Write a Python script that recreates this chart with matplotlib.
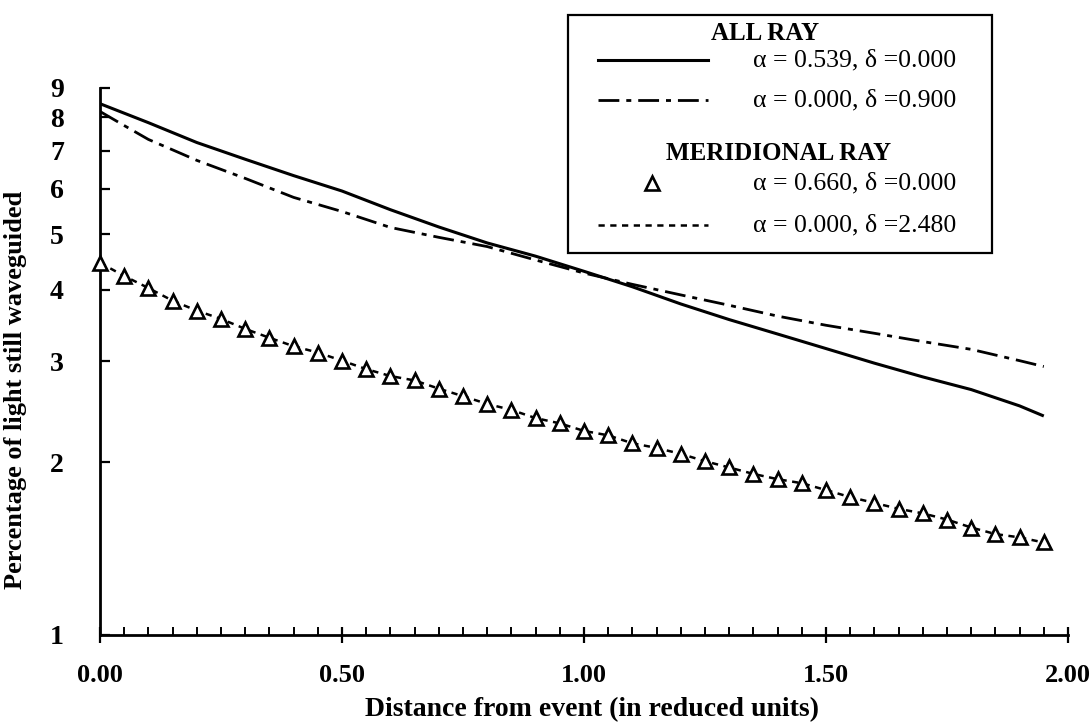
import matplotlib
matplotlib.use('Agg')
import matplotlib.pyplot as plt
from matplotlib.lines import Line2D
from matplotlib.patches import Rectangle
from matplotlib.ticker import FixedLocator, NullLocator

plt.rcParams['font.family'] = ['Liberation Serif', 'DejaVu Serif']

# ALL RAY, alpha = 0.539, delta = 0.000 (solid)
x_all = [0.0, 0.1, 0.2, 0.3, 0.4, 0.5, 0.6, 0.7, 0.8, 0.9, 1.0,
         1.1, 1.2, 1.3, 1.4, 1.5, 1.6, 1.7, 1.8, 1.9, 1.95]
all_a539 = [8.45, 7.83, 7.23, 6.76, 6.33, 5.95, 5.52, 5.15, 4.83, 4.58, 4.31,
            4.05, 3.78, 3.55, 3.35, 3.16, 2.98, 2.82, 2.68, 2.51, 2.41]

# ALL RAY, alpha = 0.000, delta = 0.900 (dash-dot)
x_all_d = [0.0, 0.05, 0.1, 0.15, 0.2, 0.3, 0.4, 0.5, 0.6, 0.7, 0.8, 0.9, 1.0,
           1.1, 1.2, 1.3, 1.4, 1.5, 1.6, 1.7, 1.8, 1.9, 1.95]
all_d090 = [8.19, 7.74, 7.32, 7.02, 6.73, 6.26, 5.80, 5.48, 5.14, 4.94, 4.76, 4.51, 4.28,
            4.09, 3.92, 3.76, 3.60, 3.47, 3.36, 3.25, 3.15, 3.01, 2.94]

# MERIDIONAL RAY, alpha = 0.660 (triangles) and delta = 2.480 (dotted)
x_mer = [0.00, 0.05, 0.10, 0.15, 0.20, 0.25, 0.30, 0.35, 0.40, 0.45,
         0.50, 0.55, 0.60, 0.65, 0.70, 0.75, 0.80, 0.85, 0.90, 0.95,
         1.00, 1.05, 1.10, 1.15, 1.20, 1.25, 1.30, 1.35, 1.40, 1.45,
         1.50, 1.55, 1.60, 1.65, 1.70, 1.75, 1.80, 1.85, 1.90, 1.95]
mer_a660 = [4.46, 4.23, 4.03, 3.83, 3.68, 3.56, 3.42, 3.30, 3.19, 3.11,
            3.01, 2.91, 2.83, 2.78, 2.69, 2.61, 2.53, 2.47, 2.39, 2.34,
            2.27, 2.23, 2.16, 2.12, 2.07, 2.01, 1.96, 1.91, 1.87, 1.84,
            1.79, 1.74, 1.70, 1.66, 1.63, 1.59, 1.54, 1.50, 1.48, 1.45]
mer_d248 = [4.46, 4.23, 4.03, 3.83, 3.68, 3.56, 3.42, 3.30, 3.19, 3.11,
            3.01, 2.91, 2.83, 2.78, 2.69, 2.61, 2.53, 2.47, 2.39, 2.34,
            2.27, 2.23, 2.16, 2.12, 2.07, 2.01, 1.96, 1.91, 1.87, 1.84,
            1.79, 1.74, 1.70, 1.66, 1.63, 1.59, 1.54, 1.50, 1.48, 1.45]

x_major = [0.0, 0.5, 1.0, 1.5, 2.0]
x_labels = ['0.00', '0.50', '1.00', '1.50', '2.00']
y_ticks = [1, 2, 3, 4, 5, 6, 7, 8, 9]
y_labels = ['1', '2', '3', '4', '5', '6', '7', '8', '9']

W, H = 1091, 726
def fx(px):
    return px / W
def fy(py):
    return 1 - py / H

dashdot = (0, (7.5, 2.5, 1.8, 2.5))
dotted = (0, (2.5, 2.2))

fig = plt.figure(figsize=(W / 100, H / 100), dpi=100)
ax = fig.add_axes([fx(100), fy(635), fx(1068) - fx(100), fy(88) - fy(635)])

ax.plot(x_all, all_a539, color='black', lw=2.2, solid_capstyle='butt')
ax.plot(x_all_d, all_d090, color='black', lw=2.0, ls=dashdot)
ax.plot(x_mer, mer_d248, color='black', lw=1.8, ls=dotted)
ax.plot(x_mer, mer_a660, ls='none', marker='^', ms=10, mfc='white',
        mec='black', mew=1.9, clip_on=False, zorder=3)

ax.set_yscale('log')
ax.set_ylim(1, 9)
ax.set_xlim(0, 2)

ax.yaxis.set_major_locator(FixedLocator(y_ticks))
ax.yaxis.set_minor_locator(NullLocator())
ax.set_yticklabels(y_labels)
ax.xaxis.set_major_locator(FixedLocator(x_major))
ax.xaxis.set_minor_locator(FixedLocator([i * 0.05 for i in range(41)]))
ax.set_xticklabels(x_labels)

for s in ['top', 'right']:
    ax.spines[s].set_visible(False)
for s in ['left', 'bottom']:
    ax.spines[s].set_linewidth(2)

ax.tick_params(axis='y', which='major', direction='in', length=7, width=1.6,
               pad=26, labelsize=20)
ax.tick_params(axis='x', which='major', direction='inout', length=12, width=1.6,
               pad=15, labelsize=19)
ax.tick_params(axis='x', which='minor', direction='in', length=6, width=1.4)
for lab in ax.get_xticklabels() + ax.get_yticklabels():
    lab.set_fontweight('bold')

ax.set_xlabel('Distance from event (in reduced units)', fontsize=20,
              fontweight='bold')
ax.xaxis.set_label_coords(fx(592), fy(697), transform=fig.transFigure)
ax.set_ylabel('Percentage of light still waveguided', fontsize=19,
              fontweight='bold')
ax.yaxis.set_label_coords(fx(27), fy(390), transform=fig.transFigure)

# legend box drawn by hand (two headed groups)
fig.add_artist(Rectangle((fx(568), fy(253)), fx(992) - fx(568), fy(15) - fy(253),
                         transform=fig.transFigure, fill=False,
                         edgecolor='black', lw=1.6))
fig.text(fx(765), fy(33), 'ALL RAY', ha='center', va='center',
         fontsize=18, fontweight='bold')
fig.text(fx(779), fy(153), 'MERIDIONAL RAY', ha='center', va='center',
         fontsize=18, fontweight='bold')

rows = [
    (60, dict(color='black', lw=2.2), 'α = 0.539, δ =0.000'),
    (100, dict(color='black', lw=2.0, ls=dashdot), 'α = 0.000, δ =0.900'),
    (183, None, 'α = 0.660, δ =0.000'),
    (225, dict(color='black', lw=1.8, ls=dotted), 'α = 0.000, δ =2.480'),
]
for py, style, text in rows:
    if style is None:
        fig.add_artist(Line2D([fx(652)], [fy(183)], transform=fig.transFigure,
                              ls='none', marker='^', ms=10, mfc='white',
                              mec='black', mew=1.9))
    else:
        fig.add_artist(Line2D([fx(598), fx(708)], [fy(py), fy(py)],
                              transform=fig.transFigure, **style))
    fig.text(fx(753), fy(py), text, ha='left', va='center', fontsize=18.5)

fig.savefig('out.png', dpi=100)
